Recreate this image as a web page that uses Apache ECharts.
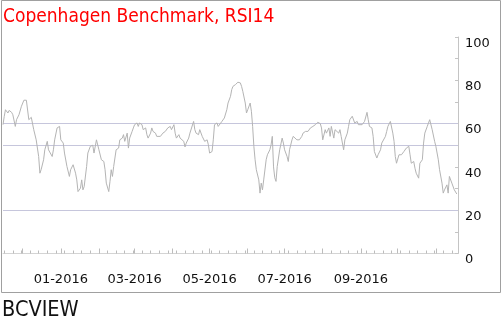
<!DOCTYPE html>
<html>
<head>
<meta charset="utf-8">
<script src="https://cdn.jsdelivr.net/npm/echarts@6/dist/echarts.min.js"></script>
<style>
  html, body { margin: 0; padding: 0; background: #ffffff; }
  #chart { width: 502px; height: 325px; }
</style>
</head>
<body>
<div id="chart"></div>
<script>
// ---- data ----
const titleText = 'Copenhagen Benchmark, RSI14';
const sourceText = 'BCVIEW';
const startDate = [2015, 11, 15];      // first calendar day on the axis
const dayCount = 371;                  // calendar days shown (to 2016-11-19)
const labelMonths = ['2016-01', '2016-03', '2016-05', '2016-07', '2016-09'];
const yTickLabels = [0, 20, 40, 60, 80, 100];
const refLevels = [20, 50, 60];

// day offset from startDate of each reading
const sampleDay = [
  0, 1, 2, 4, 5, 7, 8, 10, 11, 13, 15, 17, 19, 21, 22, 23, 25, 27, 29, 30,
  31, 33, 34, 36, 37, 40, 41, 42, 44, 46, 47, 49, 50, 52, 54, 55, 57, 59, 60, 61,
  63, 64, 65, 66, 68, 69, 71, 73, 74, 76, 77, 78, 80, 82, 83, 84, 86, 87, 88, 89,
  90, 92, 94, 95, 97, 98, 99, 101, 102, 103, 105, 106, 107, 109, 110, 111, 113, 114, 116, 117,
  118, 120, 121, 122, 124, 125, 126, 128, 129, 130, 132, 133, 134, 136, 137, 139, 140, 141, 143, 144,
  145, 147, 148, 149, 151, 152, 153, 155, 156, 157, 159, 160, 162, 163, 164, 166, 167, 168, 170, 171,
  172, 174, 175, 176, 178, 179, 180, 182, 183, 185, 186, 187, 189, 190, 191, 193, 194, 195, 197, 198,
  199, 201, 202, 203, 204, 205, 206, 208, 209, 210, 211, 212, 214, 215, 217, 218, 219, 220, 221, 222,
  223, 225, 227, 228, 229, 231, 232, 233, 235, 236, 237, 239, 240, 241, 243, 244, 246, 247, 248, 250,
  251, 252, 254, 255, 256, 258, 259, 260, 262, 263, 265, 266, 267, 269, 270, 271, 273, 274, 275, 277,
  278, 280, 281, 282, 284, 285, 286, 288, 289, 290, 292, 293, 294, 296, 297, 298, 300, 301, 302, 304,
  305, 307, 308, 309, 311, 312, 313, 315, 316, 317, 318, 319, 320, 322, 323, 324, 326, 327, 328, 330,
  331, 332, 334, 335, 336, 338, 339, 341, 342, 343, 345, 346, 347, 348, 349, 351, 352, 354, 355, 357,
  358, 359, 361, 362, 363, 365, 367, 369
];

const rsi = [
  59.5, 63.3, 66.4, 64.9, 66.1, 65.2, 64.1, 58.7, 61.8, 64.1, 68.0, 70.8, 70.8, 61.8, 61.0, 62.9, 57.2, 52.5, 44.8, 37.1,
  38.7, 43.3, 47.9, 51.8, 47.9, 44.8, 47.9, 52.5, 58.0, 58.7, 52.5, 51.0, 46.4, 40.2, 35.6, 38.7, 41.0, 37.1, 34.0, 28.6,
  30.2, 34.0, 29.4, 30.9, 40.2, 46.4, 49.5, 50.0, 46.4, 52.5, 53.3, 47.9, 43.3, 42.5, 38.7, 32.5, 28.6, 33.3, 38.7, 35.6,
  40.2, 47.9, 48.7, 52.5, 53.3, 54.9, 51.8, 55.6, 48.7, 53.3, 56.4, 58.0, 59.5, 60.3, 58.7, 60.3, 59.5, 57.2, 58.0, 54.9,
  53.3, 55.6, 58.0, 56.4, 55.6, 54.1, 54.9, 54.1, 54.4, 55.6, 56.4, 55.6, 58.0, 58.7, 57.2, 59.5, 55.6, 53.3, 54.9, 53.3,
  54.1, 51.8, 49.2, 51.0, 53.3, 55.6, 54.9, 61.0, 57.2, 55.6, 54.9, 57.2, 54.1, 53.3, 51.8, 52.5, 50.2, 46.4, 47.1, 52.5,
  59.5, 60.3, 58.7, 59.5, 61.0, 61.8, 62.6, 66.4, 69.5, 72.6, 75.7, 77.2, 78.0, 78.8, 79.1, 78.8, 77.2, 74.9, 69.5, 64.9,
  66.4, 69.5, 65.7, 58.7, 49.5, 43.3, 38.7, 34.0, 27.9, 32.5, 29.4, 34.0, 43.3, 45.6, 47.9, 50.2, 54.1, 40.0, 35.0, 33.3,
  40.2, 47.9, 53.3, 51.0, 47.9, 44.8, 42.5, 47.9, 52.5, 54.1, 53.3, 52.5, 53.3, 52.5, 54.1, 55.6, 56.4, 57.2, 56.4, 58.0,
  57.2, 58.7, 59.5, 60.3, 60.6, 60.0, 58.0, 52.5, 57.2, 55.6, 58.0, 54.1, 58.7, 53.3, 57.2, 58.0, 55.6, 57.2, 54.1, 47.9,
  52.5, 55.6, 58.7, 61.8, 63.4, 62.6, 60.3, 61.0, 59.5, 60.3, 59.5, 60.3, 61.0, 65.2, 61.8, 58.7, 58.0, 54.1, 47.1, 44.1,
  45.6, 47.9, 51.0, 51.8, 54.1, 56.4, 58.7, 61.0, 61.8, 55.6, 51.8, 44.8, 41.7, 45.6, 46.4, 45.6, 47.1, 47.9, 48.7, 49.5,
  45.6, 41.7, 42.5, 39.4, 37.1, 34.8, 41.7, 43.3, 51.0, 55.6, 58.7, 60.3, 61.8, 61.5, 57.2, 51.8, 49.5, 43.3, 38.7, 32.5,
  27.9, 29.4, 31.7, 27.9, 35.6, 32.5, 29.4, 27.5
];

// ---- build calendar categories ----
function pad(n) { return (n < 10 ? '0' : '') + n; }
const t0 = Date.UTC(startDate[0], startDate[1] - 1, startDate[2]);
const days = [];
for (let i = 0; i < dayCount; i++) {
  const d = new Date(t0 + i * 86400000);
  days.push(d.getUTCFullYear() + '-' + pad(d.getUTCMonth() + 1) + '-' + pad(d.getUTCDate()));
}
const weekday = days.map((s) => new Date(s + 'T00:00:00Z').getUTCDay());

const FONT = 'DejaVu Sans';
const NARROW = "'DejaVu Sans Condensed', 'Liberation Sans Narrow', 'Liberation Sans', sans-serif";
const chart = echarts.init(document.getElementById('chart'), null, { renderer: 'canvas' });

chart.setOption({
  animation: false,
  backgroundColor: '#ffffff',
  title: [
    {
      text: titleText, left: 3, top: 8, padding: 0,
      textStyle: { fontFamily: NARROW, fontSize: 19, fontWeight: 'normal', color: '#ff0000' }
    },
    {
      text: sourceText, left: 2, top: 299, padding: 0,
      textStyle: { fontFamily: NARROW, fontSize: 21.5, fontWeight: 'normal', color: '#111111' }
    }
  ],
  graphic: [
    {
      type: 'rect', silent: true, z: 100,
      shape: { x: 1.5, y: 0.5, width: 499, height: 292 },
      style: { fill: 'none', stroke: '#a0a0a0', lineWidth: 1 }
    }
  ],
  grid: { left: 3, right: 44, top: 37, bottom: 71.5, containLabel: false },
  xAxis: [
    {
      type: 'category', data: days, boundaryGap: false, position: 'bottom',
      axisLine: { show: true, lineStyle: { color: '#d4d4d4', width: 1 } },
      axisTick: {
        show: true, inside: true, length: 3,
        interval: (idx) => weekday[idx] === 1,
        lineStyle: { color: '#bcbcbc' }
      },
      axisLabel: {
        show: true, margin: 20,
        interval: (idx, val) => val.slice(8) === '01' && labelMonths.indexOf(val.slice(0, 7)) >= 0,
        formatter: (val) => val.slice(5, 7) + '-' + val.slice(0, 4),
        fontFamily: FONT, fontSize: 13, color: '#111111'
      },
      splitLine: { show: false }
    },
    {
      type: 'category', data: days, boundaryGap: false, position: 'bottom', offset: 0,
      axisLine: { show: false },
      axisTick: {
        show: true, inside: true, length: 5,
        interval: (idx, val) => val.slice(8) === '01',
        lineStyle: { color: '#bcbcbc' }
      },
      axisLabel: { show: false },
      splitLine: { show: false }
    }
  ],
  yAxis: {
    type: 'value', position: 'right', min: 0, max: 100, interval: 10,
    axisLine: { show: true, lineStyle: { color: '#c4c4c4', width: 1 } },
    axisTick: { show: true, inside: true, length: 3, lineStyle: { color: '#c4c4c4' } },
    axisLabel: {
      margin: 7, align: 'left', verticalAlign: 'top',
      formatter: (v) => (yTickLabels.indexOf(v) >= 0 ? String(v) : ''),
      fontFamily: FONT, fontSize: 13, color: '#111111'
    },
    splitLine: { show: false }
  },
  series: [
    {
      type: 'line', xAxisIndex: 0, yAxisIndex: 0,
      data: sampleDay.map((d, i) => [d, rsi[i]]),
      showSymbol: false, symbol: 'none',
      lineStyle: { color: '#b4b4b4', width: 1 },
      z: 3,
      markLine: {
        silent: true, symbol: ['none', 'none'],
        label: { show: false },
        lineStyle: { color: '#c6c6dc', width: 1, type: 'solid' },
        data: refLevels.map((v) => ({ yAxis: v })),
        z: 1
      }
    }
  ]
});
</script>
</body>
</html>
